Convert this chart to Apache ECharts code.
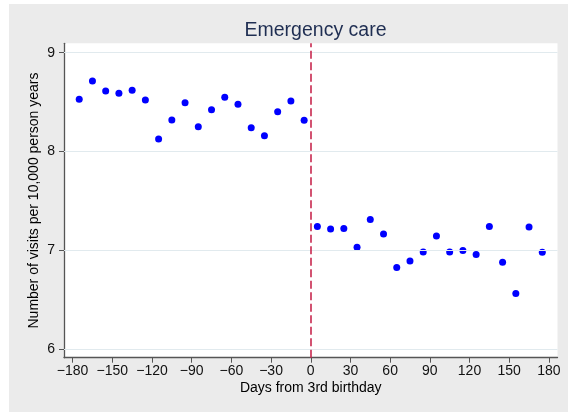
<!DOCTYPE html>
<html>
<head>
<meta charset="utf-8">
<script src="https://cdn.jsdelivr.net/npm/echarts@6/dist/echarts.min.js"></script>
<style>
  html, body { margin: 0; padding: 0; background: #ffffff; }
  #bg { position: absolute; left: 9px; top: 4px; width: 559px; height: 408px; background: #ebebeb; }
  #chart { position: absolute; left: 0; top: 0; width: 568px; height: 412px; }
</style>
</head>
<body>
<div id="bg"></div>
<div id="chart"></div>
<script>
const titleText = 'Emergency care';
const xAxisName = 'Days from 3rd birthday';
const yAxisName = 'Number of visits per 10,000 person years';
const xTicks = [-180, -150, -120, -90, -60, -30, 0, 30, 60, 90, 120, 150, 180];
const yTicks = [6, 7, 8, 9];
const days = [-175, -165, -155, -145, -135, -125, -115, -105, -95, -85, -75, -65, -55, -45, -35, -25, -15, -5,
              5, 15, 25, 35, 45, 55, 65, 75, 85, 95, 105, 115, 125, 135, 145, 155, 165, 175];
const visits = [8.528, 8.713, 8.612, 8.589, 8.619, 8.521, 8.126, 8.319, 8.494, 8.251, 8.423, 8.548, 8.478, 8.241, 8.160, 8.403, 8.511, 8.316,
                7.240, 7.216, 7.220, 7.030, 7.311, 7.165, 6.825, 6.892, 6.983, 7.145, 6.983, 6.997, 6.956, 7.240, 6.879, 6.562, 7.236, 6.980];
const cutoff = 0;

const points = days.map((d, i) => [d, visits[i]]);
const font = "'Liberation Sans', Arial, Helvetica, sans-serif";
const fmt = v => String(v).replace('-', '\u2212');

const chart = echarts.init(document.getElementById('chart'), null, { renderer: 'canvas' });
chart.setOption({
  animation: false,
  backgroundColor: 'transparent',
  title: {
    text: titleText,
    left: 310.5,
    top: 16,
    textAlign: 'center',
    textStyle: { color: '#1f2e52', fontSize: 19.5, fontWeight: 'normal', fontFamily: font }
  },
  grid: {
    left: 64, right: 10.5, top: 43.3, bottom: 54.3,
    show: true, backgroundColor: '#ffffff', borderWidth: 0
  },
  xAxis: {
    type: 'value',
    min: -186.5, max: 186.5,
    name: xAxisName, nameLocation: 'middle', nameGap: 23, nameMoveOverlap: false,
    nameTextStyle: { color: '#000', fontSize: 14, fontFamily: font },
    axisLine: { show: true, onZero: false, lineStyle: { color: '#555', width: 1.3 } },
    axisTick: { show: true, length: 5, customValues: xTicks, lineStyle: { color: '#555', width: 1 } },
    axisLabel: { customValues: xTicks, formatter: fmt, margin: 6, color: '#111', fontSize: 14, fontFamily: font },
    splitLine: { show: false }
  },
  yAxis: {
    type: 'value',
    min: 5.912, max: 9.095,
    name: yAxisName, nameLocation: 'middle', nameGap: 23, nameMoveOverlap: false,
    nameTextStyle: { color: '#000', fontSize: 14, fontFamily: font },
    axisLine: { show: true, onZero: false, lineStyle: { color: '#555', width: 1.3 } },
    axisTick: { show: true, length: 5, customValues: yTicks, lineStyle: { color: '#555', width: 1 } },
    axisLabel: { customValues: yTicks, margin: 9, color: '#111', fontSize: 14, fontFamily: font },
    splitLine: { show: false }
  },
  series: [
    {
      type: 'line',
      data: [],
      silent: true,
      z: 1,
      markLine: {
        silent: true,
        symbol: ['none', 'none'],
        label: { show: false },
        lineStyle: { color: '#e1eaee', width: 1, type: 'solid' },
        data: yTicks.map(v => ({ yAxis: v }))
      }
    },
    {
      type: 'scatter',
      data: points,
      symbol: 'circle',
      symbolSize: 7,
      z: 3,
      itemStyle: { color: '#0000ff', opacity: 1 },
      markLine: {
        silent: true,
        symbol: ['none', 'none'],
        label: { show: false },
        lineStyle: { color: '#c8284f', width: 1.6, type: [8, 3.5] },
        data: [{ xAxis: cutoff }]
      }
    }
  ]
});
</script>
</body>
</html>
